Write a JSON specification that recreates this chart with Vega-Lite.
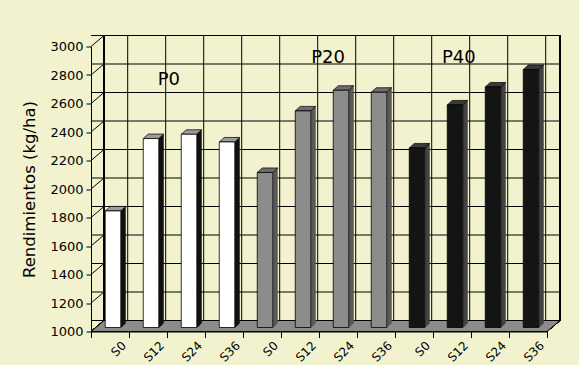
{
  "$schema": "https://vega.github.io/schema/vega-lite/v6.json",
  "width": 456,
  "height": 285,
  "autosize": {"type": "none"},
  "padding": {"left": 91, "top": 46.5, "right": 32, "bottom": 33.5},
  "background": "#F2F2CF",
  "config": {
    "view": {"stroke": null},
    "font": "DejaVu Sans",
    "axis": {"labelOverlap": false, "labelSeparation": 0}
  },
  "datasets": {
    "bars": [
      {"cat": "P0 S0", "p": "P0", "v": 1818},
      {"cat": "P0 S12", "p": "P0", "v": 2326},
      {"cat": "P0 S24", "p": "P0", "v": 2356},
      {"cat": "P0 S36", "p": "P0", "v": 2302},
      {"cat": "P20 S0", "p": "P20", "v": 2088},
      {"cat": "P20 S12", "p": "P20", "v": 2520},
      {"cat": "P20 S24", "p": "P20", "v": 2665},
      {"cat": "P20 S36", "p": "P20", "v": 2651},
      {"cat": "P40 S0", "p": "P40", "v": 2260},
      {"cat": "P40 S12", "p": "P40", "v": 2562},
      {"cat": "P40 S24", "p": "P40", "v": 2688},
      {"cat": "P40 S36", "p": "P40", "v": 2811}
    ],
    "levels": [
      {"lv": 1000}, {"lv": 1200}, {"lv": 1400}, {"lv": 1600}, {"lv": 1800}, {"lv": 2000},
      {"lv": 2200}, {"lv": 2400}, {"lv": 2600}, {"lv": 2800}, {"lv": 3000}
    ],
    "groups": [
      {"t": "P0", "pos": 2.05, "lv": 2765},
      {"t": "P20", "pos": 6.24, "lv": 2920},
      {"t": "P40", "pos": 9.68, "lv": 2920}
    ]
  },
  "layer": [
    {
      "resolve": {"scale": {"color": "independent"}},
      "layer": [
        {
          "description": "back wall: horizontal gridlines (carries the y axis)",
          "data": {"name": "levels"},
          "mark": {"type": "rule", "color": "#000", "strokeWidth": 1, "xOffset": 13, "x2Offset": 13, "yOffset": -11},
          "encoding": {
            "y": {"field": "lv", "type": "quantitative", "scale": {"domain": [1000, 3000], "nice": false, "zero": false},
                  "axis": {"title": "Rendimientos (kg/ha)", "tickCount": 10,
                           "format": "d", "labelOverlap": false, "labelFlush": false,
                           "grid": false, "domainColor": "#000", "tickColor": "#000", "tickSize": 5,
                           "labelFontSize": 13, "labelColor": "#000", "labelPadding": 3,
                           "titleFontSize": 16.5, "titleFontWeight": "normal", "titleColor": "#000", "titlePadding": 12}}
          }
        },
        {
          "description": "back wall: vertical gridlines (carries the x axis)",
          "data": {"name": "bars"},
          "mark": {"type": "rule", "color": "#000", "strokeWidth": 1, "xOffset": -1.3, "yOffset": -11, "y2Offset": -11},
          "encoding": {
            "x": {"field": "cat", "type": "nominal", "sort": null, "bandPosition": 1,
                  "scale": {"paddingInner": 0, "paddingOuter": 0},
                  "axis": {"title": null, "labelAngle": -45, "labelExpr": "split(datum.label, ' ')[1]",
                           "bandPosition": 0.5, "tickBand": "extent", "tickSize": 6, "labelOffset": 10, "labelFontSize": 12,
                           "labelPadding": 2, "domainColor": "#000", "tickColor": "#000", "labelColor": "#000"}},
            "y": {"datum": 1000, "type": "quantitative"},
            "y2": {"datum": 3000}
          }
        },
        {
          "description": "back wall: left edge",
          "data": {"name": "bars"},
          "mark": {"type": "rule", "color": "#000", "strokeWidth": 1, "xOffset": 13, "yOffset": -11, "y2Offset": -11},
          "encoding": {
            "x": {"datum": "P0 S0", "bandPosition": 0},
            "y": {"datum": 1000, "type": "quantitative"},
            "y2": {"datum": 3000}
          }
        },
        {
          "description": "back wall: right edge",
          "data": {"name": "bars"},
          "mark": {"type": "rule", "color": "#000", "strokeWidth": 1, "xOffset": 13, "yOffset": -11, "y2Offset": -11},
          "encoding": {
            "x": {"datum": "P40 S36", "bandPosition": 1},
            "y": {"datum": 1000, "type": "quantitative"},
            "y2": {"datum": 3000}
          }
        },
        {
          "description": "side wall: diagonal gridlines",
          "data": {"name": "levels"},
          "mark": {"type": "point", "shape": "M 0 0 L 1.3 -1.1", "size": 400, "filled": false, "stroke": "#000", "strokeWidth": 1, "opacity": 1},
          "encoding": {
            "x": {"datum": "P0 S0", "bandPosition": 0},
            "y": {"field": "lv", "type": "quantitative"}
          }
        },
        {
          "description": "floor",
          "data": {"name": "levels"},
          "mark": {"type": "point", "shape": "M -22.8 0 L 22.8 0 L 24.1 -1.1 L -21.5 -1.1 Z", "size": 400, "filled": true, "fill": "#8C8C8C", "stroke": "#000", "strokeWidth": 1, "opacity": 1},
          "encoding": {
            "x": {"datum": "P20 S24", "bandPosition": 0},
            "y": {"datum": 1000, "type": "quantitative"}
          }
        },
        {
          "description": "bar side faces",
          "data": {"name": "bars"},
          "mark": {"type": "bar", "width": 5, "xOffset": 13.25, "yOffset": -8.5, "y2Offset": -4, "opacity": 1},
          "encoding": {
            "x": {"field": "cat", "type": "nominal", "sort": null},
            "y": {"field": "v", "type": "quantitative"},
            "y2": {"datum": 1000},
            "color": {"field": "p", "type": "nominal", "legend": null,
                      "scale": {"domain": ["P0", "P20", "P40"], "range": ["#111111", "#595959", "#424242"]}}
          }
        },
        {
          "description": "floor colour under the slanted foot of each side face",
          "data": {"name": "bars"},
          "mark": {"type": "point", "shape": "M 0.02 0.05 L 0.56 0.05 L 0.56 -0.47 Z", "size": 400, "filled": true, "fill": "#8C8C8C", "strokeWidth": 0, "xOffset": 10.75, "yOffset": -4, "opacity": 1},
          "encoding": {
            "x": {"field": "cat", "type": "nominal", "sort": null},
            "y": {"datum": 1000, "type": "quantitative"}
          }
        },
        {
          "description": "bar top faces",
          "data": {"name": "bars"},
          "mark": {"type": "point", "shape": "M -0.775 0 L 0.775 0 L 1.275 -0.45 L -0.275 -0.45 Z", "size": 400, "filled": true, "stroke": "#000", "strokeWidth": 0.7, "xOffset": 3, "yOffset": -4, "opacity": 1},
          "encoding": {
            "x": {"field": "cat", "type": "nominal", "sort": null},
            "y": {"field": "v", "type": "quantitative"},
            "fill": {"field": "p", "type": "nominal", "legend": null,
                     "scale": {"domain": ["P0", "P20", "P40"], "range": ["#9C9C9C", "#6E6E6E", "#3A3A3A"]}}
          }
        },
        {
          "description": "bar front faces",
          "data": {"name": "bars"},
          "mark": {"type": "bar", "width": 15.5, "xOffset": 3, "yOffset": -4, "y2Offset": -4, "stroke": "#000", "strokeWidth": 0.8, "opacity": 1},
          "encoding": {
            "x": {"field": "cat", "type": "nominal", "sort": null},
            "y": {"field": "v", "type": "quantitative"},
            "y2": {"datum": 1000},
            "color": {"field": "p", "type": "nominal", "legend": null,
                      "scale": {"domain": ["P0", "P20", "P40"], "range": ["#FFFFFF", "#8C8C8C", "#141414"]}}
          }
        }
      ]
    },
    {
      "description": "treatment labels",
      "data": {"name": "groups"},
      "mark": {"type": "text", "fontSize": 18, "color": "#000", "align": "center", "baseline": "middle"},
      "encoding": {
        "x": {"field": "pos", "type": "quantitative", "scale": {"domain": [0, 12], "nice": false, "zero": false}, "axis": null},
        "y": {"field": "lv", "type": "quantitative"},
        "text": {"field": "t"}
      }
    }
  ],
  "resolve": {"scale": {"x": "independent"}}
}
